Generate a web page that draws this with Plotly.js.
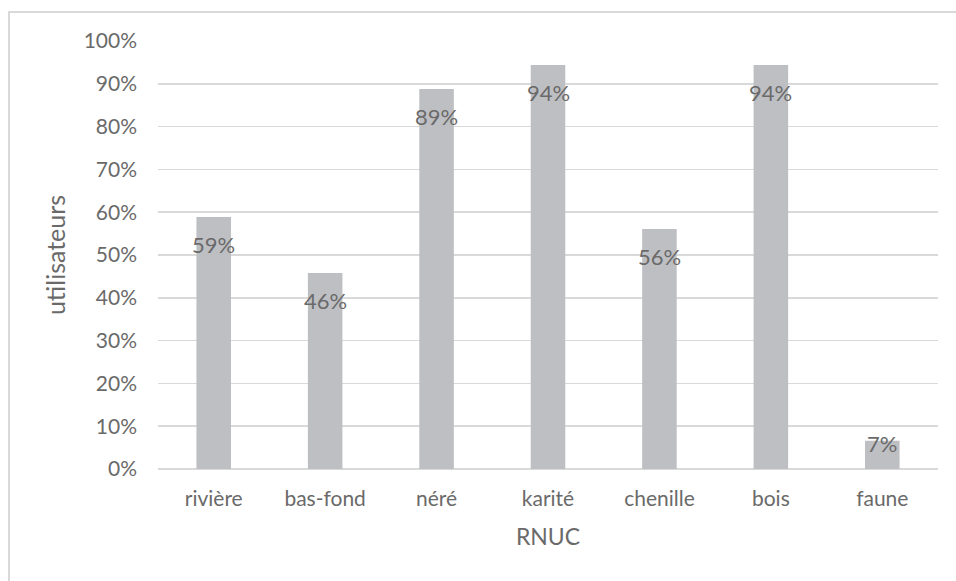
<!DOCTYPE html>
<html>
<head>
<meta charset="utf-8">
<script src="https://cdn.plot.ly/plotly-3.0.1.min.js"></script>
<style>
html,body{margin:0;padding:0;overflow:hidden;background:#fff;}
#wrap{position:relative;width:956px;height:581px;}
#chart{position:absolute;left:0;top:0;width:956px;height:581px;}
#frame{position:absolute;left:8px;top:11px;width:1000px;height:1000px;border:2px solid #d9d9d9;pointer-events:none;box-sizing:border-box;}
</style>
</head>
<body>
<div id="wrap"><div id="chart"></div><div id="frame"></div></div>
<script>
const categories = ["rivière", "bas-fond", "néré", "karité", "chenille", "bois", "faune"];
const values = [0.589, 0.458, 0.888, 0.944, 0.561, 0.944, 0.066];
const tickVals = [0, 0.1, 0.2, 0.3, 0.4, 0.5, 0.6, 0.7, 0.8, 0.9, 1.0];
const tickText = ["0%", "10%", "20%", "30%", "40%", "50%", "60%", "70%", "80%", "90%", "100%"];

const FONT = "Lato, 'Open Sans', sans-serif";
const TXT = "#6a6a6a";

const trace = {
  type: "bar",
  x: categories,
  y: values,
  marker: {color: "#bebfc3"},
  width: 0.31,
  hoverinfo: "none"
};

const annotations = categories.map((c, i) => ({
  x: c, y: values[i], xref: "x", yref: "y",
  text: Math.round(values[i] * 100) + "%",
  showarrow: false,
  yanchor: "middle",
  yshift: values[i] > 0.2 ? -28 : -3,
  font: {family: FONT, size: 22, color: TXT}
}));

const layout = {
  width: 956, height: 581,
  margin: {l: 158, r: 18, t: 41, b: 112},
  paper_bgcolor: "#fff", plot_bgcolor: "#fff",
  showlegend: false,
  font: {family: FONT, size: 21, color: TXT},
  xaxis: {
    type: "category",
    showgrid: false, zeroline: false, showline: false,
    ticks: "", ticklabelstandoff: 15,
    tickfont: {family: FONT, size: 21, color: TXT},
    title: {text: "RNUC", font: {family: FONT, size: 23, color: TXT}, standoff: 19}
  },
  yaxis: {
    range: [0, 1], autorange: false,
    tickvals: tickVals, ticktext: tickText,
    showgrid: true, gridcolor: "#d9d9d9", gridwidth: 1.5,
    zeroline: true, zerolinecolor: "#d9d9d9", zerolinewidth: 1.5,
    showline: false, ticks: "", ticklabelstandoff: 20,
    tickfont: {family: FONT, size: 21, color: TXT},
    title: {text: "utilisateurs", font: {family: FONT, size: 25, color: TXT}, standoff: 10}
  },
  annotations: annotations
};

Plotly.newPlot("chart", [trace], layout, {staticPlot: true, displayModeBar: false});
</script>
</body>
</html>
